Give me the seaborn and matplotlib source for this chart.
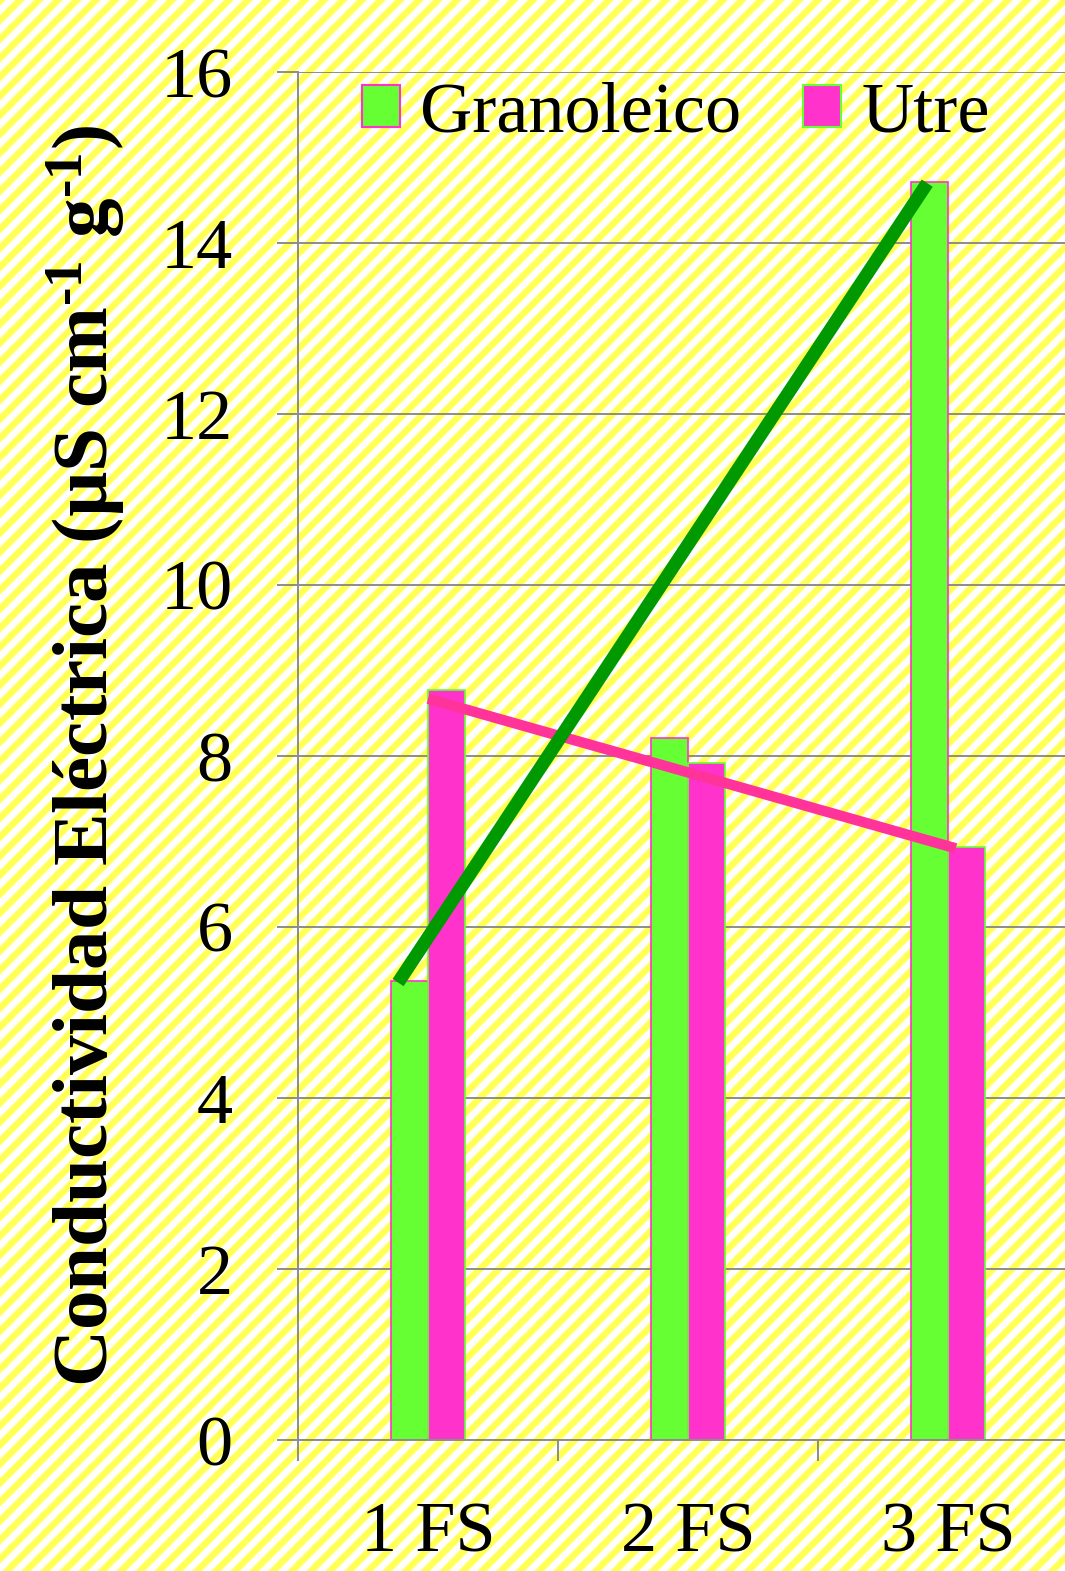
import numpy as np
import pandas as pd
import matplotlib
matplotlib.use("Agg")
import matplotlib.pyplot as plt
from matplotlib.patches import Patch
import seaborn as sns

# ---- data ----
categories = ["1 FS", "2 FS", "3 FS"]
series_names = ["Granoleico", "Utre"]
granoleico = [5.37, 8.21, 14.71]
utre = [8.77, 7.92, 6.94]

# hand-placed trend lines: (category position, value) at each end
green_trend_x = [-0.115, 1.92]
green_trend_y = [5.35, 14.70]
pink_trend_x = [0.0, 2.03]
pink_trend_y = [8.67, 6.92]

y_ticks = [0, 2, 4, 6, 8, 10, 12, 14, 16]

GREEN = "#66FF33"
PINK = "#FF33CC"
GREEN_LINE = "#009900"
PINK_LINE = "#FF3399"
GRID = "#8c8c8c"

sns.set_style("white")
plt.rcParams["font.family"] = ["Liberation Serif", "DejaVu Serif"]
plt.rcParams["mathtext.fontset"] = "custom"
plt.rcParams["mathtext.rm"] = "Liberation Serif:bold"
plt.rcParams["mathtext.default"] = "regular"
plt.rcParams["text.color"] = "black"
plt.rcParams["xtick.labelcolor"] = "black"
plt.rcParams["ytick.labelcolor"] = "black"
plt.rcParams["axes.labelcolor"] = "black"

W, H = 1065, 1571
fig = plt.figure(figsize=(W / 100, H / 100), dpi=100)

# diagonal yellow/white striped backdrop
bg = fig.add_axes([0, 0, 1, 1], zorder=-10)
rows, cols = np.mgrid[0:H, 0:W]
period = 19.0
wave = 0.5 + 0.5 * np.cos(2 * np.pi * (rows + cols) / period)
mix = np.clip((wave - 0.5) * 2.2 + 0.5, 0, 1)[..., None]
yellow = np.array([1.0, 1.0, 0.33])
white = np.ones(3)
img = white * (1 - mix) + yellow * mix
bg.imshow(img, aspect="auto", extent=[0, 1, 0, 1], interpolation="nearest")
bg.axis("off")

# main plot area (right part runs past the figure edge)
ax = fig.add_axes([298 / W, 131 / H, 780 / W, 1368 / H])
ax.set_facecolor("none")

df = pd.DataFrame({
    "categoria": categories * 2,
    "valor": granoleico + utre,
    "serie": [series_names[0]] * len(categories) + [series_names[1]] * len(categories),
})
sns.barplot(data=df, x="categoria", y="valor", hue="serie",
            palette={series_names[0]: GREEN, series_names[1]: PINK},
            width=0.285, saturation=1, errorbar=None, legend=False,
            ax=ax, zorder=2)
edge_colors = [PINK, GREEN]
for cont, ec in zip(ax.containers, edge_colors):
    for bar in cont:
        bar.set_edgecolor(ec)
        bar.set_linewidth(1.2)

ax.plot(pink_trend_x, pink_trend_y, color=PINK_LINE, lw=7.5,
        solid_capstyle="butt", zorder=4)
ax.plot(green_trend_x, green_trend_y, color=GREEN_LINE, lw=9.5,
        solid_capstyle="butt", zorder=5)

ax.set_xlim(-0.5, 2.5)
ax.set_ylim(0, 16)
ax.set_yticks(y_ticks)
ax.set_yticklabels([str(v) for v in y_ticks])

# category boundaries carry tick marks, labels sit at the centres
ax.set_xticks([-0.5, 0.5, 1.5, 2.5])
ax.set_xticklabels([])
ax.set_xticks(range(len(categories)), minor=True)
ax.set_xticklabels(categories, minor=True)
ax.tick_params(axis="x", which="major", length=15, width=1.4, color=GRID,
               direction="out", bottom=True)
ax.tick_params(axis="x", which="minor", length=0, pad=44, labelsize=52,
               labelcolor="black")
ax.tick_params(axis="y", which="major", length=15, width=1.4, color=GRID,
               direction="out", left=True, pad=32, labelsize=52,
               labelcolor="black")

ax.yaxis.grid(True, color=GRID, lw=1.4, zorder=0)
ax.xaxis.grid(False)
ax.set_axisbelow(True)
for side in ["top", "right"]:
    ax.spines[side].set_visible(False)
for side in ["left", "bottom"]:
    ax.spines[side].set_color(GRID)
    ax.spines[side].set_linewidth(1.4)

ax.set_xlabel("")
ax.set_ylabel(r"Conductividad Eléctrica (µS cm$^{\text{-1}}$ g$^{\text{-1}}$)",
              fontsize=57, fontweight="bold", color="black")
ax.yaxis.set_label_coords(-0.219, 0.5)

handles = [
    Patch(facecolor=GREEN, edgecolor=PINK, linewidth=1.5, label=series_names[0]),
    Patch(facecolor=PINK, edgecolor=GREEN, linewidth=1.5, label=series_names[1]),
]
fig.legend(handles=handles, loc="center", bbox_to_anchor=(676 / W, 1 - 114 / H),
           ncol=2, frameon=False, fontsize=52, handlelength=0.53,
           handleheight=0.53, handletextpad=0.28, columnspacing=0.85,
           borderpad=0, borderaxespad=0, labelcolor="black")

fig.savefig("out.png", dpi=100)
